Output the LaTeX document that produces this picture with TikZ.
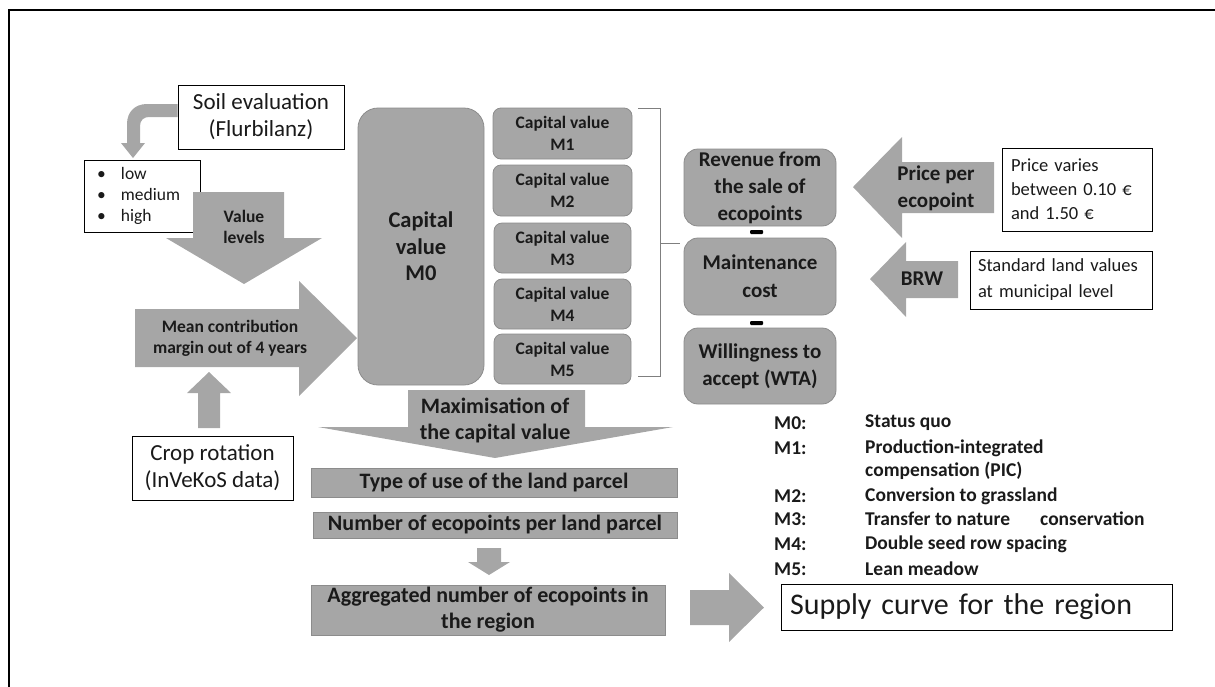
\documentclass[tikz,border=0pt]{standalone}
\usepackage{fontspec}
\setmainfont{Carlito}
\definecolor{boxgray}{HTML}{A6A6A6}
\definecolor{edgegray}{HTML}{8C8C8C}
\definecolor{arrgray}{HTML}{A6A6A6}
\definecolor{brgray}{HTML}{7F7F7F}
\definecolor{txt}{HTML}{1A1A1A}
\newcommand{\setfs}[2]{\fontsize{#1}{#2}\selectfont}
\begin{document}
\begin{tikzpicture}[x=1pt,y=-1pt,
  gbox/.style={fill=boxgray,draw=edgegray,line width=0.8pt,inner sep=0pt,align=center,text=txt},
  wbox/.style={fill=white,draw=black,line width=0.8pt,inner sep=0pt,align=center,text=txt},
  barrow/.style={fill=arrgray,draw=none},
  albl/.style={inner sep=0pt,align=center,text=txt},
  leg/.style={inner sep=0pt,anchor=west,text=txt,align=left,font=\bfseries\setfs{19.5}{23.5}},
  minussign/.style={fill=black,draw=none,minimum width=13pt,minimum height=4pt,inner sep=0pt,rounded corners=1pt},
  bracketline/.style={draw=brgray,line width=1pt},
]
\useasboundingbox (0,0) rectangle (1215,686);
% frame
\draw[line width=2pt] (9,687) -- (9,10) -- (1216,10);

% ---------- left part ----------
\node[wbox,minimum width=166pt,minimum height=64pt,font=\setfs{23}{27}] (soil) at (261,117) {Soil evaluation\\(Flurbilanz)};
\fill[arrgray] (soil.west |- 0,104) -- (147,104) .. controls (135,104) and (127,112) .. (127,124) -- (127,143) -- (121,143) -- (133,158) -- (145,143) -- (140,143) -- (140,126) .. controls (140,120) and (144,117) .. (149,117) -- (soil.west |- 0,117) -- cycle;
\node[wbox,text width=90pt,inner xsep=13pt,inner ysep=0pt,minimum height=72pt,align=left,font=\setfs{17.5}{21}] (levels) at (142,196)
  {\makebox[24pt][l]{\textbullet}low\\\makebox[24pt][l]{\textbullet}medium\\\makebox[24pt][l]{\textbullet}high};

\fill[barrow] (193,192) -- (284,192) -- (284,238) -- (322,238) -- (244,284) -- (166,238) -- (193,238) -- cycle;
\node[albl,font=\bfseries\setfs{17.5}{21}] (vl) at (244,226.5) {Value\\levels};

\fill[barrow] (135,309) -- (299,309) -- (299,281) -- (357,338) -- (299,396) -- (299,367) -- (135,367) -- cycle;
\node[albl,font=\bfseries\setfs{17.5}{21}] (mcm) at (230,338) {Mean contribution\\margin out of 4 years};

\node[wbox,minimum width=161pt,minimum height=64pt,font=\setfs{23}{27}] (crop) at (212.5,468) {Crop rotation\\(InVeKoS data)};
\fill[barrow] (198,428) -- (198,393) -- (187,393) -- (209,372) -- (231,393) -- (220,393) -- (220,428) -- cycle;

% ---------- capital values ----------
\node[gbox,minimum width=126pt,minimum height=277pt,rounded corners=20pt,font=\bfseries\setfs{22.5}{26.5}] (m0) at (421,246.5) {Capital\\value\\M0};
\node[gbox,minimum width=139pt,minimum height=51pt,rounded corners=8pt,font=\bfseries\setfs{17.5}{22}] (m1) at (562.5,133.5) {Capital value\\M1};
\node[gbox,minimum width=139pt,minimum height=51pt,rounded corners=8pt,font=\bfseries\setfs{17.5}{22}] (m2) at (562.5,190.5) {Capital value\\M2};
\node[gbox,minimum width=137pt,minimum height=50pt,rounded corners=8pt,font=\bfseries\setfs{17.5}{22}] (m3) at (562.5,248) {Capital value\\M3};
\node[gbox,minimum width=137pt,minimum height=50pt,rounded corners=8pt,font=\bfseries\setfs{17.5}{22}] (m4) at (562.5,304) {Capital value\\M4};
\node[gbox,minimum width=137pt,minimum height=50pt,rounded corners=8pt,font=\bfseries\setfs{17.5}{22}] (m5) at (562.5,359) {Capital value\\M5};

% bracket
\coordinate (bt) at (638,108);
\coordinate (bb) at (638,376);
\coordinate (bm) at (660,243);
\draw[bracketline] (bt) -- (660,108) -- (660,376) -- (bb);
\draw[bracketline] (bm) -- (680,243);

% ---------- right column ----------
\node[gbox,minimum width=152pt,minimum height=77pt,rounded corners=14pt,font=\bfseries\setfs{21}{27}] (rev) at (760,187.5) {Revenue from\\the sale of\\ecopoints};
\node[gbox,minimum width=152pt,minimum height=77pt,rounded corners=14pt,font=\bfseries\setfs{21}{28}] (maint) at (760,276.5) {Maintenance\\cost};
\node[gbox,minimum width=152pt,minimum height=76pt,rounded corners=14pt,font=\bfseries\setfs{21}{27}] (wta) at (760,366) {Willingness to\\accept (WTA)};
\node[minussign] (mi1) at (756.5,232) {};
\node[minussign] (mi2) at (756.5,323) {};

\fill[barrow] (994,162) -- (902,162) -- (902,137) -- (853,187) -- (902,238) -- (902,213) -- (994,213) -- cycle;
\node[albl,font=\bfseries\setfs{21}{27}] (ppe) at (936,188.5) {Price per\\ecopoint};
\node[wbox,minimum height=83pt,text width=132pt,inner xsep=9pt,inner ysep=0pt,align=left,font=\setfs{18.5}{24}] (price) at (1077,189.5) {Price varies\\between 0.10~€\\and 1.50~€};

\fill[barrow] (958,261) -- (906,261) -- (906,242) -- (870,279) -- (906,317) -- (906,298) -- (958,298) -- cycle;
\node[albl,font=\bfseries\setfs{21}{27}] (brw) at (922,279) {BRW};
\node[wbox,minimum height=58pt,text width=166pt,inner xsep=8pt,inner ysep=0pt,align=left,font=\setfs{18.5}{26}] (std) at (1061,280) {Standard land values\\at municipal level};

% ---------- bottom flow ----------
\fill[barrow] (408,390) -- (585,390) -- (585,427) -- (673,427) -- (495,458) -- (318,427) -- (408,427) -- cycle;
\node[albl,font=\bfseries\setfs{22}{26}] (maxi) at (495,420) {Maximisation of\\the capital value};

\node[gbox,minimum width=366pt,minimum height=29pt,font=\bfseries\setfs{22}{26}] (type) at (494,482.5) {Type of use of the land parcel};
\node[gbox,minimum width=364pt,minimum height=26pt,font=\bfseries\setfs{22}{26}] (num) at (495,525) {Number of ecopoints per land parcel};
\fill[barrow] (477,548) -- (501,548) -- (501,562) -- (510,562) -- (489,575) -- (468,562) -- (477,562) -- cycle;
\node[gbox,minimum width=354pt,minimum height=50pt,font=\bfseries\setfs{22}{26}] (agg) at (488,610) {Aggregated number of ecopoints in\\the region};

\fill[barrow] (690,590) -- (729,590) -- (729,573) -- (764,607.5) -- (729,642) -- (729,625) -- (690,625) -- cycle;
\node[wbox,minimum height=46pt,text width=373pt,inner xsep=9pt,inner ysep=0pt,align=left,font=\setfs{30}{34}] (supply) at (976.5,607) {Supply curve for the region};

% ---------- legend ----------
\node[leg] (l0) at (774,423) {M0:};
\node[leg] (d0) at (865,423) {Status quo};
\node[leg] (l1) at (774,448) {M1:};
\node[leg] (d1) at (865,459.5) {Production-integrated\\compensation (PIC)};
\node[leg] (l2) at (774,496) {M2:};
\node[leg] (d2) at (865,496) {Conversion to grassland};
\node[leg] (l3) at (774,519) {M3:};
\node[leg] (d3) at (865,519) {Transfer to nature\hspace{30pt}conservation};
\node[leg] (l4) at (774,544) {M4:};
\node[leg] (d4) at (865,544) {Double seed row spacing};
\node[leg] (l5) at (774,569) {M5:};
\node[leg] (d5) at (865,569) {Lean meadow};
\end{tikzpicture}
\end{document}
